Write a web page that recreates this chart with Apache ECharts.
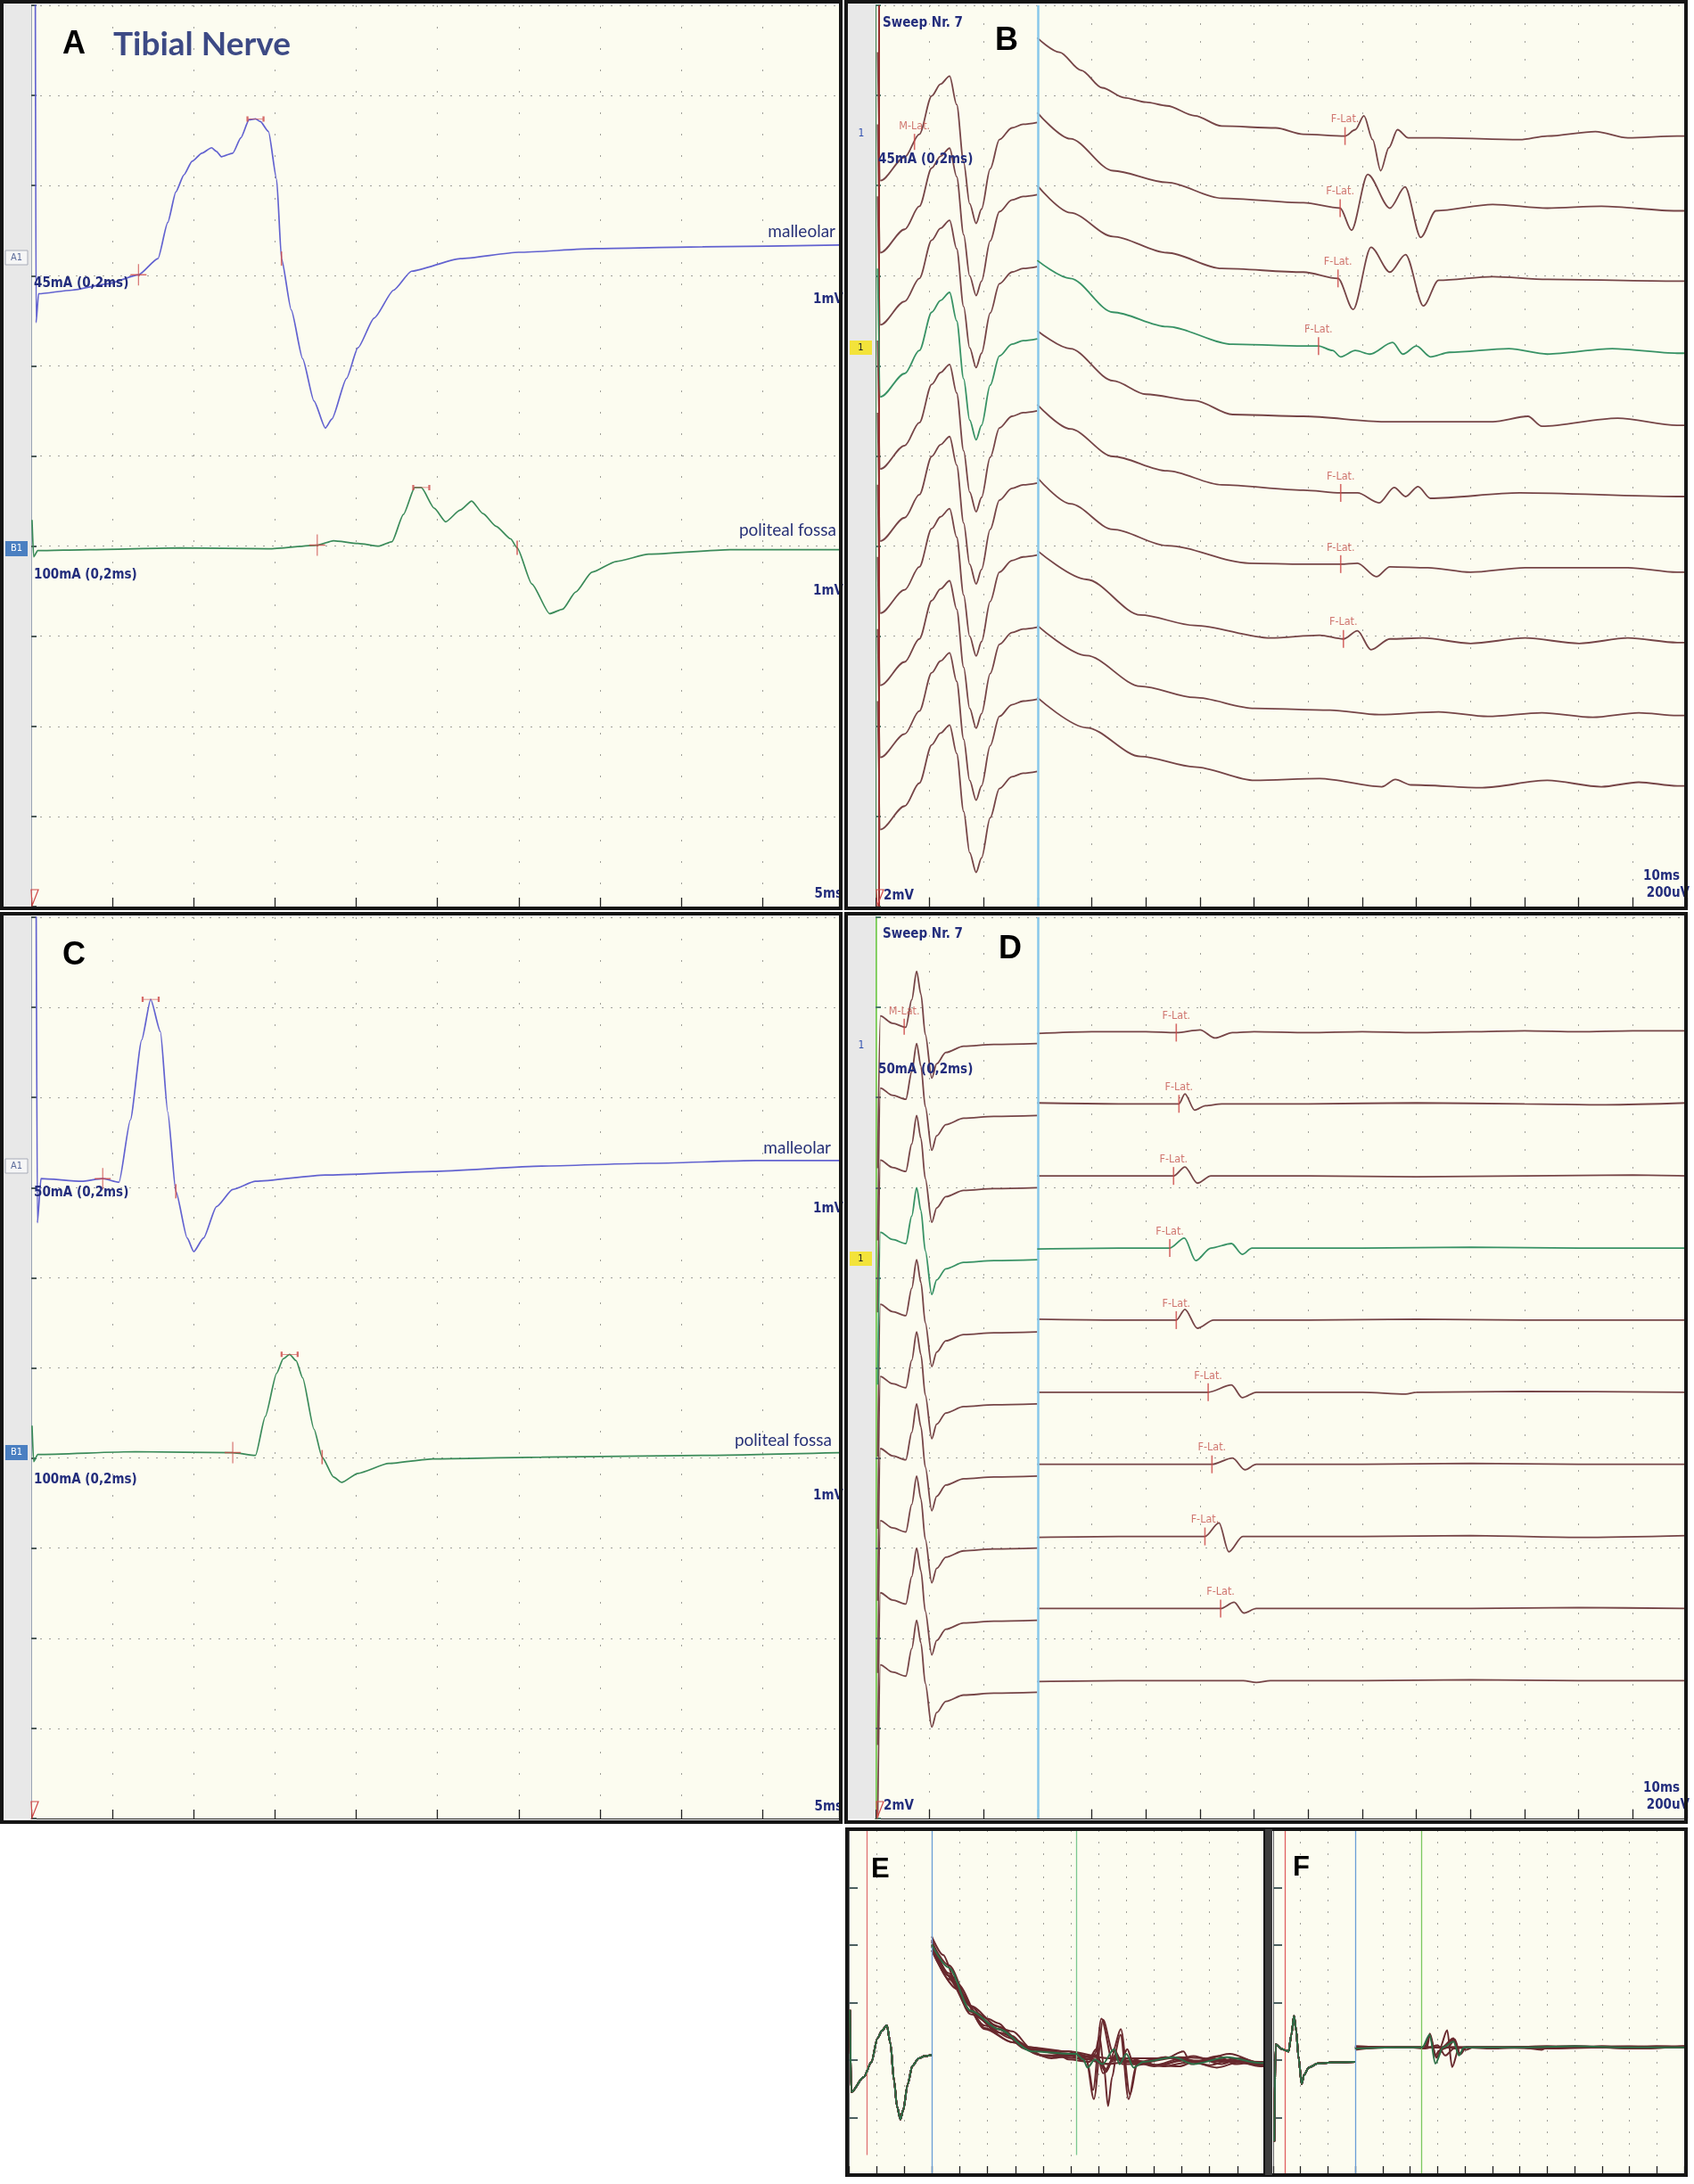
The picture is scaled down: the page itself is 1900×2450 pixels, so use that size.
<!DOCTYPE html>
<html>
<head>
<meta charset="utf-8">
<title>Tibial Nerve</title>
<script src="https://cdn.jsdelivr.net/npm/echarts@6.0.0/dist/echarts.min.js"></script>
<style>
  html, body { margin: 0; padding: 0; background: #ffffff; }
  #chart { width: 1900px; height: 2450px; }
</style>
</head>
<body>
<div id="chart"></div>
<script>
// ---------------- Motor conduction traces (time ms, amplitude mV) ----------------
const motorA_malleolar = [[0.25, 3.2], [0.3, -0.72], [0.45, -0.40], [2.5, -0.36], [4.7, -0.29], [6.6, -0.19], [7.8, -0.01], [8.4, 0.39], [8.9, 0.73], [9.4, 0.92], [9.9, 1.07], [10.5, 1.16], [11.1, 1.22], [11.4, 1.18], [11.7, 1.12], [12.4, 1.16], [12.9, 1.33], [13.4, 1.53], [13.8, 1.54], [14.1, 1.51], [14.6, 1.40], [15.1, 0.87], [15.4, -0.01], [16.0, -0.58], [16.7, -1.12], [17.4, -1.59], [18.1, -1.89], [18.5, -1.79], [19.4, -1.34], [20.1, -1.00], [21.1, -0.67], [22.3, -0.36], [23.4, -0.15], [26.4, -0.01], [30.0, 0.06], [34.7, 0.10], [41.3, 0.12], [49.7, 0.14]];
const motorA_politeal = [[0.05, 0.32], [0.15, -0.09], [0.4, -0.02], [3.6, -0.01], [9.1, 0.01], [14.6, 0.0], [17.6, 0.04], [18.6, 0.09], [20.1, 0.06], [21.4, 0.03], [22.2, 0.08], [22.9, 0.38], [23.6, 0.68], [24.0, 0.68], [24.8, 0.45], [25.5, 0.30], [26.4, 0.43], [27.1, 0.53], [27.8, 0.39], [28.6, 0.25], [29.5, 0.11], [29.9, 0.01], [30.8, -0.39], [31.9, -0.72], [32.7, -0.67], [33.5, -0.48], [34.5, -0.26], [36.0, -0.14], [38.0, -0.06], [43.0, -0.01], [49.7, -0.01]];
const motorC_malleolar = [[0.3, 3.2], [0.38, -0.63], [0.6, -0.14], [3.1, -0.17], [4.4, -0.14], [5.4, -0.18], [6.1, 0.51], [6.8, 1.40], [7.35, 1.85], [7.95, 1.49], [8.4, 0.60], [8.9, -0.28], [9.6, -0.80], [10.0, -0.95], [10.6, -0.80], [11.4, -0.45], [12.4, -0.26], [13.8, -0.17], [18.1, -0.10], [24.7, -0.06], [31.4, 0.0], [38.0, 0.03], [44.6, 0.06], [49.7, 0.06]];
const motorC_politeal = [[0.05, 0.30], [0.15, -0.10], [0.4, -0.02], [6.4, 0.01], [12.4, 0.0], [13.8, -0.03], [14.4, 0.40], [15.1, 0.88], [15.5, 1.04], [15.9, 1.09], [16.3, 1.02], [16.7, 0.83], [17.4, 0.26], [17.9, -0.05], [18.6, -0.27], [19.1, -0.33], [20.1, -0.23], [22.0, -0.12], [24.7, -0.07], [31.4, -0.05], [41.3, -0.03], [49.7, 0.0]];

// cursors: onset, peak, baseline crossing  [ms, mV]
const motorA_malleolarCursors = { onset: [6.6, -0.19], peak: [13.8, 1.54], cross: [15.4, -0.01] };
const motorA_politealCursors  = { onset: [17.6, 0.04], peak: [24.0, 0.68], cross: [29.9, 0.01] };
const motorC_malleolarCursors = { onset: [4.4, -0.14], peak: [7.35, 1.85], cross: [8.9, -0.28] };
const motorC_politealCursors  = { onset: [12.4, 0.0], peak: [15.9, 1.09], cross: [17.9, -0.05] };

// ---------------- F-wave series, 10 sweeps ----------------
// M response (mV) — identical shape on every sweep
const sweepsB_mwave = [[0.4, 1.56], [0.9, -1.29], [5.4, -0.77], [8.1, -0.26], [10.4, 0.59], [12.0, 0.85], [13.7, 1.03], [15.0, 0.40], [16.3, -0.89], [17.4, -1.80], [18.6, -2.24], [19.6, -1.92], [21.2, -1.03], [22.9, -0.38], [25.2, -0.12], [27.3, -0.04], [29.9, 0]];
// late window (µV)
const sweepsB_f1 = [[29.9, 218], [34.0, 186], [38.0, 146], [41.9, 107], [46.0, 85], [50.0, 75], [53.9, 67], [59.0, 45], [64.0, 22], [74.0, 18], [79.1, 4], [86.8, 0], [88.7, 14], [90.3, 45], [91.9, -8], [93.4, -77], [94.9, -26], [96.5, 14], [98.5, -4], [104.1, -4], [119.1, -8], [124.2, 0], [133.1, 10], [139.1, -4], [148.2, 0], [150, 0]];
const sweepsB_f2 = [[29.9, 212], [36.0, 154], [43.9, 83], [53.9, 57], [64.0, 22], [79.1, 12], [85.9, 0], [88.0, -49], [91.0, 75], [95.1, 0], [97.9, 47], [100.8, -65], [103.6, -6], [114.1, 8], [124.2, 0], [134.2, 4], [148.2, -6], [150, -6]];
const sweepsB_f3 = [[29.9, 210], [36.0, 150], [43.9, 97], [53.9, 61], [64.0, 26], [79.1, 18], [85.5, 4], [88.3, -65], [91.6, 73], [95.1, 18], [98.0, 57], [101.3, -57], [104.1, 0], [114.1, 8], [124.2, 2], [148.2, -2], [150, -2]];
const sweepsB_f4 = [[29.9, 204], [36.0, 164], [43.9, 89], [53.9, 57], [66.0, 18], [79.1, 14], [81.9, 14], [84.5, 4], [86.0, -10], [88.7, 4], [91.4, -4], [95.6, 22], [97.5, -4], [100.0, 14], [102.6, -10], [106.1, 0], [117.1, 8], [124.2, -4], [136.2, 8], [148.2, -2], [150, -2]];
const sweepsB_f5 = [[29.9, 208], [36.0, 168], [43.9, 97], [50.0, 67], [59.0, 53], [66.0, 22], [79.1, 18], [94.1, 6], [114.1, 6], [120.6, 18], [123.2, -4], [137.2, 14], [148.2, -2], [150, -2]];
const sweepsB_f6 = [[29.9, 204], [36.0, 150], [43.9, 89], [53.9, 57], [64.0, 26], [79.1, 14], [86.0, 8], [89.1, 8], [93.1, -14], [95.9, 20], [98.0, 0], [100.3, 22], [102.6, -4], [119.1, 8], [148.2, 0], [150, 0]];
const sweepsB_f7 = [[29.9, 202], [36.0, 144], [43.9, 87], [53.9, 51], [69.1, 12], [79.1, 10], [86.0, 10], [89.1, 12], [92.6, -18], [95.1, 4], [102.1, 2], [110.0, -8], [120.1, 2], [139.1, 2], [148.2, -8], [150, -8]];
const sweepsB_f8 = [[29.9, 200], [39.0, 136], [49.0, 57], [59.0, 34], [73.0, 6], [82.1, 12], [86.5, 4], [89.1, 22], [91.6, -20], [95.1, 4], [101.2, 6], [110.0, -6], [120.1, 6], [130.1, -6], [139.1, 6], [148.2, -4], [150, -4]];
const sweepsB_f9 = [[29.9, 194], [39.0, 127], [49.0, 59], [59.0, 34], [70.1, 10], [84.0, 6], [93.1, -4], [104.1, 2], [113.2, -8], [123.2, 0], [132.6, -10], [141.1, 0], [148.2, -6], [150, -6]];
const sweepsB_f10 = [[29.9, 194], [39.0, 127], [49.0, 63], [59.0, 40], [70.1, 10], [82.1, 14], [93.6, -4], [96.1, 12], [99.0, 0], [112.2, -6], [124.2, 10], [134.2, -4], [141.1, 6], [148.2, -2], [150, -2]];
const sweepsB_fLat = [[86.8, 0], [85.9, 0], [85.5, 4], [81.9, 14], null, [86.0, 8], [86.0, 10], [86.5, 4], null, null];
const sweepsB_mLat = [7.2, -0.43];

const sweepsD_mwave = [[0.4, -2.77], [0.9, 0.61], [3.1, 0.45], [5.6, 0.36], [6.7, 0.97], [7.6, 1.60], [8.4, 1.09], [9.2, 0.20], [10.4, -0.77], [11.3, -0.45], [13.0, -0.20], [16.3, -0.06], [21.9, -0.02], [29.9, 0]];
const sweepsD_f1 = [[29.9, -4], [40, 0], [50, 0], [55.6, -2], [60.0, 4], [62.8, -14], [66, -2], [70, 0], [80, -2], [90, 0], [100, -2], [110, 0], [120, 2], [130, 0], [140, 2], [150, 2]];
const sweepsD_f2 = [[29.9, 2], [45, 0], [56.1, 0], [57.2, 22], [59.0, -14], [61.0, -4], [64, 0], [80, 0], [100, 2], [120, 0], [135, -2], [150, 2]];
const sweepsD_f3 = [[29.9, 0], [45, 0], [55.1, 0], [57.2, 20], [59.5, -16], [62.0, 0], [80, 0], [100, -2], [120, 0], [140, 2], [150, 0]];
const sweepsD_f4 = [[29.9, -2], [45, 0], [54.4, 0], [57.1, 22], [59.2, -28], [62.0, 0], [65.8, 10], [67.8, -14], [69.6, 0], [90, 0], [110, 2], [130, 0], [150, 0]];
const sweepsD_f5 = [[29.9, 2], [45, 0], [55.6, 0], [57.2, 24], [59.5, -18], [62.5, 0], [80, 0], [100, 2], [120, 0], [150, 0]];
const sweepsD_f6 = [[29.9, 0], [45, 0], [61.5, 0], [65.8, 16], [67.8, -12], [70.4, 0], [90, 0], [98.0, -4], [100, 0], [120, 2], [150, 0]];
const sweepsD_f7 = [[29.9, 0], [45, 0], [62.2, 0], [66.0, 14], [68.3, -12], [70.4, 0], [90, 0], [110, 2], [130, 0], [150, 0]];
const sweepsD_f8 = [[29.9, -2], [45, 0], [60.9, 0], [63.5, 30], [65.3, -34], [67.9, 0], [90, 0], [110, 2], [130, -2], [150, 2]];
const sweepsD_f9 = [[29.9, 0], [45, 0], [63.8, 0], [66.3, 14], [68.1, -10], [70.4, 0], [90, 0], [110, 0], [130, 2], [150, 0]];
const sweepsD_f10 = [[29.9, -2], [45, 0], [68, 0], [70.4, -4], [73, 0], [90, 0], [110, 2], [130, 0], [150, 0]];
const sweepsD_fLat = [[55.6, -2], [56.1, 0], [55.1, 0], [54.4, 0], [55.6, 0], [61.5, 0], [62.2, 0], [60.9, 0], [63.8, 0], null];
const sweepsD_mLat = [5.3, 0.37];

// latency cursors of the superimposed views (ms)
const overlayE_cursors = { m: 6.5, window: 30, f: 82 };
const overlayF_cursors = { m: 4.3, window: 30, f: 54 };

// ---------------- display settings ----------------
const CREAM = '#fcfcf0';
const BLUE = '#6262d0', GREEN = '#3b8b5a';
const BROWN = '#764547', SWEEP_GREEN = '#389265';
const DARK_BROWN = '#68282d', DARK_GREEN = '#2c6e46';
const RED = '#cc4646', RED_TXT = '#c4544f', NAVY = '#232d7c';
const COND = '"DejaVu Sans Condensed", "Liberation Sans Narrow", "DejaVu Sans", sans-serif';

// channel zero lines in divisions (1 mV/div)
const chanA = { a1: 7.2, b1: 3.97 };
const chanC = { a1: 7.24, b1: 4.06 };
// sweep stacking: offsets in divisions, gains in units per division
const stackB = { mTop: 8.7, fTop: 8.55, step: 0.8, mGain: 2, fGain: 200 };
const stackD = { mTop: 8.6, fTop: 8.73, step: 0.8, mGain: 2, fGain: 200 };
const stackE = { mTop: 2.09, fTop: 1.97, step: 0, mGain: 2, fGain: 100 };
const stackF = { mTop: 1.97, fTop: 2.22, step: 0, mGain: 2, fGain: 100 };

const sweepsB_f = [sweepsB_f1, sweepsB_f2, sweepsB_f3, sweepsB_f4, sweepsB_f5, sweepsB_f6, sweepsB_f7, sweepsB_f8, sweepsB_f9, sweepsB_f10];
const sweepsD_f = [sweepsD_f1, sweepsD_f2, sweepsD_f3, sweepsD_f4, sweepsD_f5, sweepsD_f6, sweepsD_f7, sweepsD_f8, sweepsD_f9, sweepsD_f10];

const place = (pts, offset, gain) => pts.map(p => [p[0], offset + p[1] / gain]);

const series = [];

function trace(g, pts, color, width, z, smooth) {
  return {
    type: 'line', xAxisIndex: g, yAxisIndex: g, data: pts, symbol: 'none',
    smooth: smooth == null ? 0.3 : smooth, smoothMonotone: 'x', clip: true, silent: true, animation: false,
    z: z || 3, lineStyle: { color: color, width: width }
  };
}
function tickMark(g, pts, h, text) {
  return {
    type: 'scatter', xAxisIndex: g, yAxisIndex: g, data: pts, symbol: 'rect',
    symbolSize: [1.6, h], itemStyle: { color: RED }, silent: true, animation: false, z: 8,
    label: text ? { show: true, position: 'top', distance: 2, formatter: text, color: RED_TXT,
      fontSize: 12.5, fontFamily: COND } : { show: false }
  };
}
function pathMark(g, pts, path, size) {
  return {
    type: 'scatter', xAxisIndex: g, yAxisIndex: g, data: pts, symbol: path, symbolSize: size,
    itemStyle: { color: 'rgba(0,0,0,0)', borderColor: RED, borderWidth: 1.3 },
    silent: true, animation: false, z: 8
  };
}
function cursorLine(g, t, color, width, from, to) {
  return {
    type: 'line', xAxisIndex: g, yAxisIndex: g, data: [], silent: true, animation: false, z: 2,
    markLine: {
      silent: true, symbol: ['none', 'none'], animation: false, label: { show: false },
      lineStyle: { color: color, width: width, type: 'solid' },
      data: from == null ? [{ xAxis: t }] : [[{ coord: [t, from] }, { coord: [t, to] }]]
    }
  };
}

const PLUS = 'path://M0,12L18,12M9,0L9,24';
const PEAKBAR = 'path://M0,0L0,6M0,3L18,3M18,0L18,6';

function motorChannel(g, pts, cursors, zero, color) {
  series.push(trace(g, place(pts, zero, 1), color, 1.7, 4, 0.2));
  const at = v => [v[0], zero + v[1]];
  series.push(pathMark(g, [at(cursors.onset)], PLUS, [18, 24]));
  series.push(pathMark(g, [at(cursors.peak)], PEAKBAR, [18, 6]));
  series.push(tickMark(g, [at(cursors.cross)], 16));
}

// Panel A and C
motorChannel(0, motorA_malleolar, motorA_malleolarCursors, chanA.a1, BLUE);
motorChannel(0, motorA_politeal, motorA_politealCursors, chanA.b1, GREEN);
motorChannel(2, motorC_malleolar, motorC_malleolarCursors, chanC.a1, BLUE);
motorChannel(2, motorC_politeal, motorC_politealCursors, chanC.b1, GREEN);

function sweepPanel(g, mwave, fwaves, st, brown, green, width) {
  fwaves.forEach((f, k) => {
    const isSel = k === 3;
    const col = isSel ? green : brown;
    series.push(trace(g, place(mwave, st.mTop - st.step * k, st.mGain), col, width, isSel ? 5 : 3));
    series.push(trace(g, place(f, st.fTop - st.step * k, st.fGain), col, width, isSel ? 5 : 3));
  });
}
function latencyMarks(g, fLat, mLat, st) {
  const pts = [];
  fLat.forEach((v, k) => { if (v) pts.push([v[0], st.fTop - st.step * k + v[1] / st.fGain]); });
  series.push(tickMark(g, pts, 20, 'F-Lat.'));
  series.push(tickMark(g, [[mLat[0], st.mTop + mLat[1] / st.mGain]], 18, 'M-Lat.'));
}

// Panel B and D (stacked sweeps)
sweepPanel(1, sweepsB_mwave, sweepsB_f, stackB, BROWN, SWEEP_GREEN, 1.8);
latencyMarks(1, sweepsB_fLat, sweepsB_mLat, stackB);
series.push(cursorLine(1, 30, '#88c8ea', 2.5));
series.push(cursorLine(1, 0.6, '#9a3030', 2));

sweepPanel(3, sweepsD_mwave, sweepsD_f, stackD, BROWN, SWEEP_GREEN, 1.8);
latencyMarks(3, sweepsD_fLat, sweepsD_mLat, stackD);
series.push(cursorLine(3, 30, '#88c8ea', 2.5));

// Panel E and F (superimposed sweeps)
sweepPanel(4, sweepsB_mwave, sweepsB_f, stackE, DARK_BROWN, DARK_GREEN, 2);
series.push(cursorLine(4, overlayE_cursors.window, '#6a9ed6', 1.3));
series.push(cursorLine(4, overlayE_cursors.m, '#e07272', 1.3, 0.35, 6));
series.push(cursorLine(4, overlayE_cursors.f, '#7cc890', 1.3, 0.35, 6));

sweepPanel(5, sweepsD_mwave, sweepsD_f, stackF, DARK_BROWN, DARK_GREEN, 2);
series.push(cursorLine(5, overlayF_cursors.window, '#6a9ed6', 1.3));
series.push(cursorLine(5, overlayF_cursors.m, '#e06060', 1.3));
series.push(cursorLine(5, overlayF_cursors.f, '#7cc860', 1.3));

// ---------------- axes ----------------
function xAx(g, max, interval, split, tickLen) {
  return {
    gridIndex: g, type: 'value', min: 0, max: max, interval: interval,
    axisLabel: { show: false },
    axisLine: { show: true, onZero: false, lineStyle: { color: '#222', width: 1 } },
    axisTick: { show: true, inside: true, length: tickLen, lineStyle: { color: '#222', width: 1.3 } },
    splitLine: { show: true, lineStyle: { color: '#a0a098', width: 1, type: split } }
  };
}
function yAx(g, max, tickColor, lineColor, lineWidth, split, tickLen) {
  return {
    gridIndex: g, type: 'value', min: 0, max: max, interval: 1,
    axisLabel: { show: false },
    axisLine: { show: true, onZero: false, lineStyle: { color: lineColor, width: lineWidth } },
    axisTick: { show: true, inside: true, length: tickLen, lineStyle: { color: tickColor, width: 2 } },
    splitLine: split ? { show: true, lineStyle: { color: '#a0a098', width: 1, type: split } } : { show: false }
  };
}

const grids = [
  { left: 35, top: 6, width: 906, height: 1011 },
  { left: 982, top: 6, width: 910, height: 1011 },
  { left: 35, top: 1029, width: 906, height: 1011 },
  { left: 982, top: 1029, width: 910, height: 1011 },
  { left: 952, top: 2053, width: 467, height: 387 },
  { left: 1428, top: 2053, width: 461, height: 387 }
].map(g => Object.assign(g, {
  show: true, backgroundColor: CREAM, borderWidth: 0, borderColor: 'transparent',
  containLabel: false, outerBoundsMode: 'none'
}));

const xAxes = [
  xAx(0, 49.7, 5, [2, 22], 10),
  xAx(1, 150, 10, [2, 18], 10),
  xAx(2, 49.7, 5, [2, 22], 10),
  xAx(3, 150, 10, [2, 18], 10),
  xAx(4, 150, 10, [2, 11], 10),
  xAx(5, 150, 10, [2, 11], 10)
];
const yAxes = [
  yAx(0, 10, '#4d5a58', '#9aa4b4', 1, [2, 8], 6),
  yAx(1, 10, '#4d7a6a', '#3f8050', 1.2, [2, 8], 6),
  yAx(2, 10, '#4d5a58', '#9aa4b4', 1, [2, 8], 6),
  yAx(3, 10, '#4d7a6a', '#74c850', 2.5, [2, 8], 6),
  yAx(4, 6, '#4d6060', '#666', 1, null, 10),
  yAx(5, 6, '#4d6060', '#666', 1, null, 10)
];

// ---------------- frames and annotations ----------------
const g = [];
function rect(x, y, w, h, style, z) { g.push({ type: 'rect', shape: { x: x, y: y, width: w, height: h }, style: style, z: z, silent: true }); }
function text(x, y, str, font, fill, align, z) {
  g.push({ type: 'text', x: x, y: y, z: z || 60, silent: true,
    style: { text: str, font: font, fill: fill, textAlign: align || 'left', textVerticalAlign: 'middle', align: align || 'left', verticalAlign: 'middle' } });
}
function trigger(x, y) {
  g.push({ type: 'polygon', shape: { points: [[x, y], [x + 8, y], [x + 1, y + 18]] },
    style: { fill: 'none', stroke: '#d04848', lineWidth: 1.2 }, z: 60, silent: true });
}
const BOLD_SM = 'bold 15px ' + COND;
const LETTER = 'bold 36px "Liberation Sans", Arial, sans-serif';
const CAPTION = '19px Lato, "Open Sans", sans-serif';

// grey side strips
rect(4, 4, 31, 1013, { fill: '#e8e8e8' }, 1);
rect(4, 1027, 31, 1013, { fill: '#e8e8e8' }, 1);
rect(951, 4, 31, 1013, { fill: '#e8e8e8' }, 1);
rect(951, 1027, 31, 1013, { fill: '#e8e8e8' }, 1);

// Panel A
text(70, 50, 'A', LETTER, '#000');
text(127, 50, 'Tibial Nerve', 'bold 37px Lato, "Open Sans", sans-serif', '#3d4a85');
text(937, 260, 'malleolar', CAPTION, '#283278', 'right');
text(938, 595, 'politeal fossa', CAPTION, '#283278', 'right');
text(946, 336, '1mV', BOLD_SM, NAVY, 'right');
text(946, 663, '1mV', BOLD_SM, NAVY, 'right');
text(38, 318, '45mA (0,2ms)', BOLD_SM, NAVY);
text(38, 645, '100mA (0,2ms)', BOLD_SM, NAVY);
text(945, 1003, '5ms', BOLD_SM, NAVY, 'right');
trigger(35, 998);
rect(6, 281, 25, 16, { fill: '#f6f6f6', stroke: '#a8acb8', lineWidth: 1 }, 50);
text(18.5, 289, 'A1', '11px ' + COND, '#5a6a9a', 'center');
rect(6, 607, 25, 17, { fill: '#4a7fc1' }, 50);
text(18.5, 615.5, 'B1', '11px ' + COND, '#ffffff', 'center');

// Panel C
text(70, 1072, 'C', LETTER, '#000');
text(932, 1288, 'malleolar', CAPTION, '#283278', 'right');
text(933, 1616, 'politeal fossa', CAPTION, '#283278', 'right');
text(946, 1356, '1mV', BOLD_SM, NAVY, 'right');
text(946, 1678, '1mV', BOLD_SM, NAVY, 'right');
text(38, 1338, '50mA (0,2ms)', BOLD_SM, NAVY);
text(38, 1660, '100mA (0,2ms)', BOLD_SM, NAVY);
text(945, 2027, '5ms', BOLD_SM, NAVY, 'right');
trigger(35, 2021);
rect(6, 1300, 25, 16, { fill: '#f6f6f6', stroke: '#a8acb8', lineWidth: 1 }, 50);
text(18.5, 1308, 'A1', '11px ' + COND, '#5a6a9a', 'center');
rect(6, 1621, 25, 17, { fill: '#4a7fc1' }, 50);
text(18.5, 1629.5, 'B1', '11px ' + COND, '#ffffff', 'center');

// Panel B
text(990, 26, 'Sweep Nr. 7', BOLD_SM, NAVY);
text(1116, 46, 'B', LETTER, '#000');
text(966, 150, '1', '12px ' + COND, '#3050b0', 'center');
rect(953, 382, 25, 16, { fill: '#f3e33a' }, 50);
text(965.5, 390, '1', '11px ' + COND, '#222', 'center');
text(985, 179, '45mA (0,2ms)', BOLD_SM, NAVY);
text(991, 1005, '2mV', BOLD_SM, NAVY);
text(1884, 983, '10ms', BOLD_SM, NAVY, 'right');
text(1895, 1002, '200uV', BOLD_SM, NAVY, 'right');
trigger(983, 998);

// Panel D
text(990, 1048, 'Sweep Nr. 7', BOLD_SM, NAVY);
text(1120, 1065, 'D', LETTER, '#000');
text(966, 1173, '1', '12px ' + COND, '#3050b0', 'center');
rect(953, 1404, 25, 16, { fill: '#f3e33a' }, 50);
text(965.5, 1412, '1', '11px ' + COND, '#222', 'center');
text(985, 1200, '50mA (0,2ms)', BOLD_SM, NAVY);
text(991, 2026, '2mV', BOLD_SM, NAVY);
text(1884, 2006, '10ms', BOLD_SM, NAVY, 'right');
text(1895, 2025, '200uV', BOLD_SM, NAVY, 'right');
trigger(983, 2021);

// Panels E and F
text(977, 2097, 'E', 'bold 31px "Liberation Sans", Arial, sans-serif', '#000');
text(1450, 2095, 'F', 'bold 31px "Liberation Sans", Arial, sans-serif', '#000');

// panel frames
const FRAME = { fill: 'none', stroke: '#151515', lineWidth: 4 };
rect(2, 2, 941, 1017, FRAME, 100);
rect(949, 2, 942, 1017, FRAME, 100);
rect(2, 1025, 941, 1019, FRAME, 100);
rect(949, 1025, 942, 1019, FRAME, 100);
rect(950, 2052, 469, 388, FRAME, 100);
rect(1421, 2052, 470, 388, FRAME, 100);
rect(1419, 2052, 8, 388, { fill: '#3c3c3c' }, 101);

const chart = echarts.init(document.getElementById('chart'), null, { renderer: 'canvas', width: 1900, height: 2450 });
chart.setOption({
  backgroundColor: '#ffffff',
  animation: false,
  tooltip: { show: false },
  grid: grids,
  xAxis: xAxes,
  yAxis: yAxes,
  series: series,
  graphic: { elements: g }
});
</script>
</body>
</html>
